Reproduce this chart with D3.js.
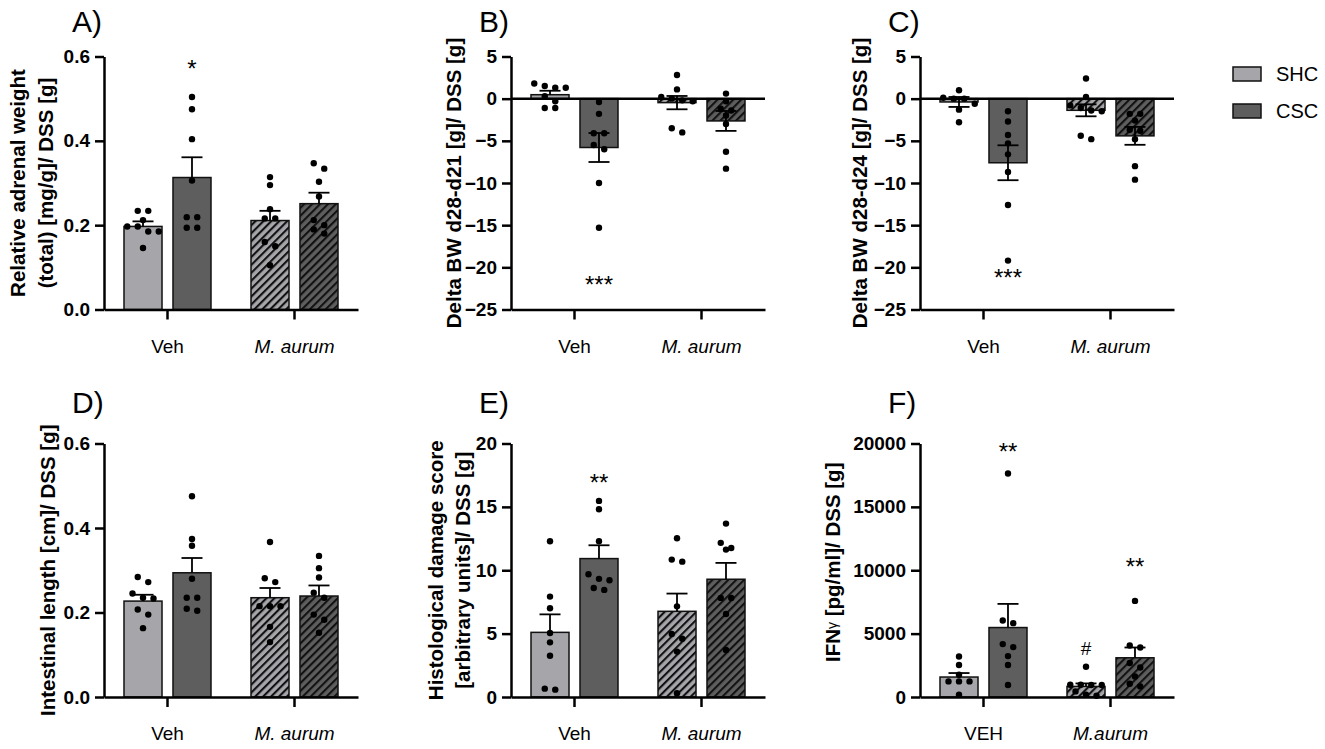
<!DOCTYPE html>
<html><head><meta charset="utf-8">
<script src="https://cdn.jsdelivr.net/npm/d3@7"></script>
<style>
body{margin:0;background:#fff;}
svg{display:block;font-family:"Liberation Sans",Arial,Helvetica,sans-serif;}
</style></head><body>
<svg id="chart" width="1325" height="749"></svg>
<script>
// ---------- DATA ----------
const groups = ["Veh", "M. aurum"];
const groupsF = ["VEH", "M.aurum"];
const series = ["SHC", "CSC"];
// every value list ordered: [Veh-SHC, Veh-CSC, M.aurum-SHC, M.aurum-CSC]

// A) Relative adrenal weight
const adrenalTicks = [0, 0.2, 0.4, 0.6];
const adrenalMean = [0.197, 0.313, 0.211, 0.251];
const adrenalSem = [0.012, 0.048, 0.023, 0.026];
const adrenalPoints = [
  [0.234, 0.234, 0.212, 0.197, 0.197, 0.185, 0.185, 0.146],
  [0.504, 0.475, 0.404, 0.306, 0.219, 0.219, 0.194, 0.194],
  [0.314, 0.295, 0.238, 0.216, 0.216, 0.160, 0.150, 0.105],
  [0.347, 0.334, 0.303, 0.268, 0.212, 0.200, 0.190, 0.180]
];
const adrenalSig = [{bar: 1, text: "*", value: 0.584}];

// B) Delta BW d28-d21
const bwTicks = [-25, -20, -15, -10, -5, 0, 5];
const bw21Mean = [0.47, -5.79, -0.47, -2.64];
const bw21Sem = [0.47, 1.72, 0.79, 1.18];
const bw21Points = [
  [1.8, 1.5, 1.3, 1.3, 0.3, -0.3, -1.1, -1.1],
  [-0.4, -1.8, -4.1, -4.1, -5.5, -6.0, -10.0, -15.3],
  [2.8, 1.1, 0.2, 0.0, -0.2, -0.3, -3.5, -4.0],
  [0.6, -0.3, -1.2, -1.4, -2.0, -3.0, -6.3, -8.3]
];
const bw21Sig = [{bar: 1, text: "***", value: -21.4}];

// C) Delta BW d28-d24
const bw24Mean = [-0.39, -7.6, -1.38, -4.41];
const bw24Sem = [0.59, 2.07, 0.71, 1.06];
const bw24Points = [
  [1.0, 0.1, 0.0, 0.0, -0.6, -1.3, -2.8],
  [-1.5, -2.7, -4.3, -5.3, -6.6, -8.7, -12.6, -19.2],
  [2.4, 0.2, -0.8, -1.1, -1.4, -1.5, -4.4, -4.8],
  [-1.8, -1.8, -2.6, -3.7, -3.8, -4.8, -8.0, -9.6]
];
const bw24Sig = [{bar: 1, text: "***", value: -20.6}];

// D) Intestinal length
const lengthTicks = [0, 0.2, 0.4, 0.6];
const lengthMean = [0.227, 0.294, 0.235, 0.239];
const lengthSem = [0.015, 0.035, 0.023, 0.025];
const lengthPoints = [
  [0.284, 0.272, 0.245, 0.235, 0.233, 0.207, 0.195, 0.163],
  [0.475, 0.374, 0.358, 0.280, 0.235, 0.235, 0.209, 0.204],
  [0.367, 0.281, 0.272, 0.215, 0.215, 0.215, 0.166, 0.130],
  [0.334, 0.305, 0.283, 0.247, 0.235, 0.195, 0.183, 0.152]
];
const lengthSig = [];

// E) Histological damage score
const histoTicks = [0, 5, 10, 15, 20];
const histoMean = [5.1, 10.92, 6.76, 9.29];
const histoSem = [1.42, 1.05, 1.40, 1.29];
const histoPoints = [
  [12.29, 7.92, 7.0, 5.05, 4.31, 3.26, 0.58, 0.66],
  [15.47, 14.81, 12.29, 9.68, 9.32, 9.21, 8.6, 8.45],
  [12.52, 10.84, 10.68, 7.15, 4.97, 4.6, 3.58, 0.3],
  [13.68, 12.16, 11.76, 11.63, 7.82, 7.82, 6.55, 3.71]
];
const histoSig = [{bar: 1, text: "**", value: 17.34}];

// F) IFN-gamma
const ifnTicks = [0, 5000, 10000, 15000, 20000];
const ifnMean = [1575, 5480, 835, 3094];
const ifnSem = [315, 1866, 236, 812];
const ifnPoints = [
  [3200, 2520, 1760, 1230, 1230, 1230, 180],
  [17638, 6031, 5827, 4173, 3937, 3228, 2520, 945],
  [2390, 970, 970, 950, 950, 440, 180, 100],
  [7583, 4063, 3906, 2677, 2330, 1622, 1047, 835]
];
const ifnSig = [
  {bar: 1, text: "**", value: 19800},
  {bar: 2, text: "#", value: 3858},
  {bar: 3, text: "**", value: 10677}
];

// ---------- LAYOUT / STYLE ----------
const colX = [104, 511, 920];
const plotW = 254;
const rowY = [[56.5, 309.5], [443.5, 697]];
const fillLight = "#a5a5aa", fillDark = "#5e5e5e";

const panels = [
  {title: "A)", col: 0, row: 0, label: ["Relative adrenal weight", "(total) [mg/g]/ DSS [g]"], labelX: [17, 45],
   ticks: adrenalTicks, fmt: d3.format(".1f"), mean: adrenalMean, sem: adrenalSem, pts: adrenalPoints, sig: adrenalSig, cats: groups},
  {title: "B)", col: 1, row: 0, label: ["Delta BW d28-d21 [g]/ DSS [g]"], labelX: [453],
   ticks: bwTicks, fmt: d3.format("d"), mean: bw21Mean, sem: bw21Sem, pts: bw21Points, sig: bw21Sig, cats: groups},
  {title: "C)", col: 2, row: 0, label: ["Delta BW d28-d24 [g]/ DSS [g]"], labelX: [859],
   ticks: bwTicks, fmt: d3.format("d"), mean: bw24Mean, sem: bw24Sem, pts: bw24Points, sig: bw24Sig, cats: groups},
  {title: "D)", col: 0, row: 1, label: ["Intestinal length [cm]/ DSS [g]"], labelX: [47],
   ticks: lengthTicks, fmt: d3.format(".1f"), mean: lengthMean, sem: lengthSem, pts: lengthPoints, sig: lengthSig, cats: groups},
  {title: "E)", col: 1, row: 1, label: ["Histological damage score", "[arbitrary units]/ DSS [g]"], labelX: [435, 462],
   ticks: histoTicks, fmt: d3.format("d"), mean: histoMean, sem: histoSem, pts: histoPoints, sig: histoSig, cats: groups},
  {title: "F)", col: 2, row: 1, label: null, labelX: [832],
   ticks: ifnTicks, fmt: d3.format("d"), mean: ifnMean, sem: ifnSem, pts: ifnPoints, sig: ifnSig, cats: groupsF}
];

const svg = d3.select("#chart");
const defs = svg.append("defs");
function hatch(id, color) {
  const p = defs.append("pattern").attr("id", id).attr("patternUnits", "userSpaceOnUse")
    .attr("width", 5.6).attr("height", 5.6).attr("patternTransform", "rotate(45)");
  p.append("rect").attr("width", 5.6).attr("height", 5.6).attr("fill", color);
  p.append("rect").attr("x", 0).attr("width", 2.1).attr("height", 5.6).attr("fill", "#111");
}
hatch("hatchLight", fillLight);
hatch("hatchDark", fillDark);
const barFill = ["#a5a5aa", fillDark, "url(#hatchLight)", "url(#hatchDark)"];

function swarm(vals, y, spacing, thr) {
  const s = vals.map(v => ({v, py: y(v)})).sort((a, b) => a.py - b.py);
  const rows = [];
  s.forEach(p => {
    const last = rows[rows.length - 1];
    if (last && Math.abs(p.py - last[0].py) < thr) last.push(p); else rows.push([p]);
  });
  rows.forEach(r => r.forEach((p, i) => p.dx = (i - (r.length - 1) / 2) * spacing));
  return s;
}

panels.forEach(P => {
  const x0 = colX[P.col], x1 = x0 + plotW;
  const [yT, yB] = rowY[P.row];
  const g = svg.append("g");
  const dom = [d3.min(P.ticks), d3.max(P.ticks)];
  const y = d3.scaleLinear().domain(dom).range([yB, yT]);
  const xg = d3.scaleBand().domain(P.cats).range([x0, x1]);
  const xs = d3.scaleBand().domain(series).range([-43.5, 43.5]).paddingInner(0.224);
  const base = y(Math.max(dom[0], 0));

  // bars
  const bars = P.mean.map((m, i) => ({m, s: P.sem[i], i, gc: xg(P.cats[Math.floor(i / 2)]) + xg.bandwidth() / 2, se: series[i % 2]}));
  g.selectAll("rect.bar").data(bars).join("rect")
    .attr("x", d => d.gc + xs(d.se)).attr("width", xs.bandwidth())
    .attr("y", d => y(Math.max(0, d.m))).attr("height", d => Math.abs(y(d.m) - y(0)))
    .attr("fill", d => barFill[d.i]).attr("stroke", "#111").attr("stroke-width", 1.5);

  // points
  bars.forEach(b => {
    const sw = swarm(P.pts[b.i], y, 10.5, 6);
    g.selectAll(null).data(sw).join("circle")
      .attr("cx", d => b.gc + xs(b.se) + xs.bandwidth() / 2 + d.dx)
      .attr("cy", d => d.py).attr("r", 3.2).attr("fill", "#000");
  });

  // error bars
  bars.forEach(b => {
    const cx = b.gc + xs(b.se) + xs.bandwidth() / 2;
    const lo = b.m < 0 ? b.m - b.s : b.m, hi = b.m + b.s;
    g.append("line").attr("x1", cx).attr("x2", cx).attr("y1", y(lo)).attr("y2", y(hi)).attr("stroke", "#000").attr("stroke-width", 1.8);
    const caps = b.m < 0 ? [lo, hi] : [hi];
    caps.forEach(c => g.append("line").attr("x1", cx - 10.5).attr("x2", cx + 10.5).attr("y1", y(c)).attr("y2", y(c)).attr("stroke", "#000").attr("stroke-width", 1.8));
  });

  // zero line for negative domains
  if (dom[0] < 0) {
    g.append("line").attr("x1", x0).attr("x2", x1).attr("y1", y(0)).attr("y2", y(0)).attr("stroke", "#000").attr("stroke-width", 2.5);
  }

  // y axis
  const ya = g.append("g").attr("transform", `translate(${x0},0)`)
    .call(d3.axisLeft(y).tickValues(P.ticks).tickFormat(P.fmt).tickSize(9).tickSizeOuter(0).tickPadding(5));
  ya.select(".domain").attr("stroke-width", 2.5).attr("stroke", "#000");
  ya.selectAll(".tick line").attr("stroke-width", 2.5).attr("stroke", "#000");
  ya.selectAll(".tick text").attr("font-size", 19).attr("font-weight", "bold").attr("fill", "#000")
    .attr("font-family", '"Liberation Sans", Arial, sans-serif');

  // x axis
  const xa = g.append("g").attr("transform", `translate(0,${yB})`)
    .call(d3.axisBottom(xg).tickSize(10).tickSizeOuter(0).tickPadding(20));
  xa.select(".domain").attr("stroke-width", 2.5).attr("stroke", "#000");
  xa.selectAll(".tick line").attr("stroke-width", 2.5).attr("stroke", "#000");
  xa.selectAll(".tick text").attr("font-size", 19).attr("fill", "#000")
    .attr("font-family", '"Liberation Sans", Arial, sans-serif')
    .attr("font-style", (d, i) => i === 1 ? "italic" : "normal");

  // significance
  P.sig.forEach(s => {
    const b = bars[s.bar];
    const cx = b.gc + xs(b.se) + xs.bandwidth() / 2;
    const star = s.text !== "#";
    const fs = star ? 24 : 19;
    g.append("text").attr("x", cx).attr("y", y(s.value) + (star ? 0.575 : 0.35) * fs)
      .attr("text-anchor", "middle").attr("font-size", fs).attr("fill", "#000").text(s.text);
  });

  // title
  g.append("text").attr("x", x0 - 32).attr("y", P.row === 0 ? 32 : 413).attr("font-size", 30).attr("fill", "#000").text(P.title);

  // y label
  const cy = (yT + yB) / 2;
  if (P.label) {
    P.label.forEach((t, k) => {
      g.append("text").attr("transform", `translate(${P.labelX[k]},${cy}) rotate(-90)`)
        .attr("text-anchor", "middle").attr("dominant-baseline", "central")
        .attr("font-size", 20.5).attr("font-weight", "bold").attr("fill", "#000").text(t);
    });
  } else {
    const t = g.append("text").attr("transform", `translate(${P.labelX[0]},${cy - 8}) rotate(-90)`)
      .attr("text-anchor", "middle").attr("dominant-baseline", "central")
      .attr("font-size", 20.5).attr("font-weight", "bold").attr("fill", "#000");
    t.append("tspan").text("IFN");
    t.append("tspan").attr("font-size", 14).attr("font-weight", "normal").text("γ");
    t.append("tspan").text(" [pg/ml]/ DSS [g]");
  }
});

// legend
const lg = svg.append("g");
series.forEach((s, i) => {
  lg.append("rect").attr("x", 1233).attr("y", 67 + i * 37).attr("width", 28).attr("height", 14)
    .attr("fill", i === 0 ? fillLight : fillDark).attr("stroke", "#111").attr("stroke-width", 1.5);
  lg.append("text").attr("x", 1276).attr("y", 81 + i * 37).attr("font-size", 20).attr("fill", "#000").text(s);
});
</script>
</body></html>
